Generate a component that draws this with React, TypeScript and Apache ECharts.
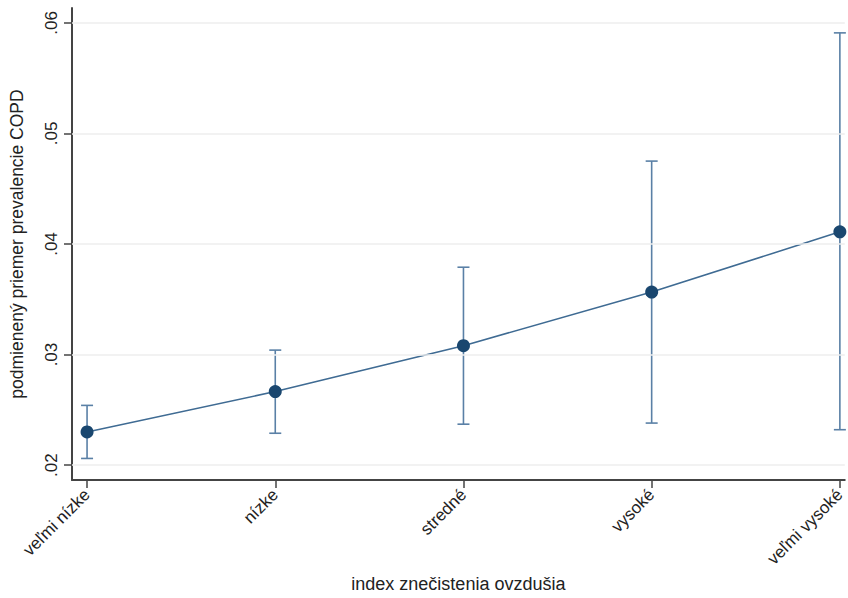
import React, { useEffect, useRef } from "react";
import * as echarts from "echarts";

const categories = ["veľmi nízke", "nízke", "stredné", "vysoké", "veľmi vysoké"];
const means = [0.0230, 0.02665, 0.0308, 0.03565, 0.0411];
const lower = [0.0206, 0.02288, 0.0237, 0.0238, 0.0232];
const upper = [0.0254, 0.0304, 0.0379, 0.0475, 0.0591];
const yTicks = [0.02, 0.03, 0.04, 0.05, 0.06];
const xTicks = [0, 1, 2, 3, 4];

const FONT = "'Liberation Sans', Arial, sans-serif";

export default function App() {
  const ref = useRef<HTMLDivElement>(null);
  useEffect(() => {
    if (!ref.current) return;
    const chart = echarts.init(ref.current, null, { renderer: "svg" });
    const errData = categories.map((_, i) => [i, lower[i], upper[i]]);
    chart.setOption({
      animation: false,
      backgroundColor: "#ffffff",
      grid: { left: 72, right: 0, top: 8, bottom: 115, containLabel: false },
      xAxis: {
        type: "value",
        min: -0.08,
        max: 4.026,
        name: "index znečistenia ovzdušia",
        nameLocation: "middle",
        nameGap: 95,
        nameTextStyle: { fontFamily: FONT, fontSize: 18, color: "#222" },
        axisLine: { show: true, onZero: false, lineStyle: { color: "#444", width: 2 } },
        axisTick: { show: true, length: 8, customValues: xTicks, lineStyle: { color: "#444", width: 1.5 } },
        axisLabel: {
          customValues: xTicks,
          rotate: 45,
          margin: 12,
          fontFamily: FONT,
          fontSize: 17,
          color: "#222",
          formatter: (v: number) => categories[Math.round(v)] ?? "",
        },
        splitLine: { show: false },
      },
      yAxis: {
        type: "value",
        min: 0.01865,
        max: 0.06135,
        name: "podmienený priemer prevalencie COPD",
        nameLocation: "middle",
        nameRotate: 90,
        nameGap: 46,
        nameTextStyle: { fontFamily: FONT, fontSize: 17.5, color: "#222" },
        axisLine: { show: true, onZero: false, lineStyle: { color: "#444", width: 2 } },
        axisTick: { show: true, length: 8, customValues: yTicks, lineStyle: { color: "#444", width: 1.5 } },
        axisLabel: {
          customValues: yTicks,
          rotate: 90,
          margin: 12,
          fontFamily: FONT,
          fontSize: 17,
          color: "#222",
          formatter: (v: number) => v.toFixed(2).replace(/^0/, ""),
        },
        splitLine: { show: false },
      },
      series: [
        {
          type: "line",
          data: [],
          silent: true,
          markLine: {
            silent: true,
            symbol: "none",
            label: { show: false },
            lineStyle: { color: "#eeeeee", type: "solid", width: 1.5 },
            data: yTicks.map((v) => ({ yAxis: v })),
          },
          z: 0,
        },
        {
          type: "custom",
          data: errData,
          z: 2,
          clip: false,
          renderItem: (params: any, api: any) => {
            const x = api.value(0);
            const lo = api.coord([x, api.value(1)]);
            const hi = api.coord([x, api.value(2)]);
            const w = 6;
            const c = "#5a80a6";
            return {
              type: "group",
              children: [
                { type: "rect", shape: { x: lo[0] - 0.8, y: hi[1], width: 1.6, height: lo[1] - hi[1] }, style: { fill: c } },
                { type: "rect", shape: { x: lo[0] - w, y: lo[1] - 0.8, width: 2 * w, height: 1.6 }, style: { fill: c } },
                { type: "rect", shape: { x: hi[0] - w, y: hi[1] - 0.8, width: 2 * w, height: 1.6 }, style: { fill: c } },
              ],
            };
          },
        },
        {
          type: "line",
          data: means.map((m, i) => [i, m]),
          symbol: "circle",
          symbolSize: 13,
          z: 3,
          lineStyle: { color: "#3f6b93", width: 1.6 },
          itemStyle: { color: "#1a476f", borderWidth: 0 },
        },
      ],
    });
    return () => chart.dispose();
  }, []);
  return (
    <div
      ref={ref}
      style={{ position: "fixed", left: 0, top: 0, width: 848, height: 598 }}
    />
  );
}
